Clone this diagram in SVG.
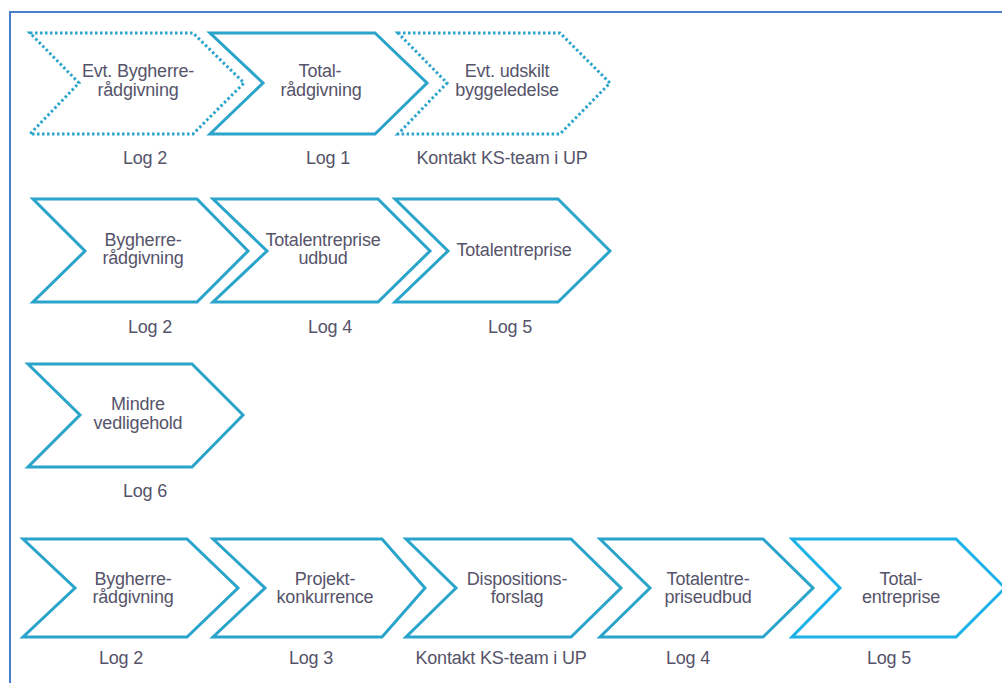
<svg xmlns="http://www.w3.org/2000/svg" width="1002" height="683" viewBox="0 0 1002 683">
<style>
.bg{fill:#ffffff}
.frame{fill:none;stroke:#4a80c8;stroke-width:2}
.chev{fill:#ffffff;stroke:#2aa4cb;stroke-width:3;stroke-linejoin:miter}
.dot{fill:#ffffff;stroke:#2aa4cb;stroke-width:3;stroke-dasharray:2.5 2.5}
.bright{stroke:#1cb2e8}
text{font-family:"Liberation Sans",Arial,sans-serif;font-size:18px;fill:#56546a;text-anchor:middle;letter-spacing:-0.2px}
</style>
<rect class="bg" x="0" y="0" width="1002" height="683"/>
<rect class="frame" x="10" y="12" width="1000" height="690"/>
<g id="connectors"></g>

<g id="r1n1"><path class="dot" d="M30,33 L193,33 L244,83 L193,134 L30,134 L79,83 Z"/><text x="138" y="77">Evt. Bygherre-</text><text x="138" y="96">rådgivning</text><text x="145" y="164">Log 2</text></g>
<g id="r1n2"><path class="chev" d="M210,33 L375,33 L427,83 L375,134 L210,134 L263,83 Z"/><text x="320" y="77">Total-</text><text x="321" y="96">rådgivning</text><text x="328" y="164">Log 1</text></g>
<g id="r1n3"><path class="dot" d="M398,33 L560,33 L610,83 L560,134 L398,134 L447,83 Z"/><text x="507" y="77">Evt. udskilt</text><text x="507" y="96">byggeledelse</text><text x="502" y="164">Kontakt KS-team i UP</text></g>

<g id="r2n1"><path class="chev" d="M33,199 L197,199 L248,251 L197,302 L33,302 L85,251 Z"/><text x="143" y="246">Bygherre-</text><text x="143" y="264">rådgivning</text><text x="150" y="333">Log 2</text></g>
<g id="r2n2"><path class="chev" d="M213,199 L378,199 L430,251 L378,302 L213,302 L267,251 Z"/><text x="323" y="246">Totalentreprise</text><text x="323" y="264">udbud</text><text x="330" y="333">Log 4</text></g>
<g id="r2n3"><path class="chev" d="M395,199 L558,199 L610,251 L558,302 L395,302 L448,251 Z"/><text x="514" y="256">Totalentreprise</text><text x="510" y="333">Log 5</text></g>

<g id="r3n1"><path class="chev" d="M28,364 L192,364 L243,415 L192,467 L28,467 L80,415 Z"/><text x="138" y="410">Mindre</text><text x="138" y="429">vedligehold</text><text x="145" y="497">Log 6</text></g>

<g id="r4n1"><path class="chev" d="M23,539 L187,539 L238,588 L187,637 L23,637 L75,588 Z"/><text x="133" y="585">Bygherre-</text><text x="133" y="603">rådgivning</text><text x="121" y="664">Log 2</text></g>
<g id="r4n2"><path class="chev" d="M213,539 L382,539 L425,588 L382,637 L213,637 L265,588 Z"/><text x="325" y="585">Projekt-</text><text x="325" y="603">konkurrence</text><text x="311" y="664">Log 3</text></g>
<g id="r4n3"><path class="chev" d="M406,539 L571,539 L621,588 L571,637 L406,637 L456,588 Z"/><text x="517" y="585">Dispositions-</text><text x="517" y="603">forslag</text><text x="501" y="664">Kontakt KS-team i UP</text></g>
<g id="r4n4"><path class="chev" d="M600,539 L763,539 L813,588 L763,637 L600,637 L650,588 Z"/><text x="708" y="585">Totalentre-</text><text x="708" y="603">priseudbud</text><text x="688" y="664">Log 4</text></g>
<g id="r4n5"><path class="chev bright" d="M792,539 L956,539 L1005,588 L956,637 L792,637 L840,588 Z"/><text x="901" y="585">Total-</text><text x="901" y="603">entreprise</text><text x="889" y="664">Log 5</text></g>
</svg>
